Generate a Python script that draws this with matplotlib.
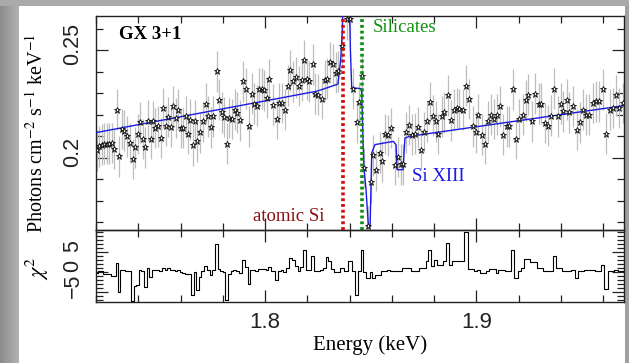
import numpy as np
import matplotlib
matplotlib.use("Agg")
import matplotlib.pyplot as plt
from matplotlib.patches import Rectangle
from matplotlib.ticker import MultipleLocator
from matplotlib.transforms import ScaledTranslation

# ---------------- data ----------------
energy = [
    1.7203, 1.7216, 1.7227, 1.7239, 1.7250, 1.7263, 1.7277, 1.7287, 1.7298, 1.7310,
    1.7321, 1.7334, 1.7345, 1.7361, 1.7374, 1.7385, 1.7397, 1.7408, 1.7421, 1.7433,
    1.7445, 1.7459, 1.7471, 1.7481, 1.7492, 1.7506, 1.7519, 1.7531, 1.7542, 1.7555,
    1.7566, 1.7579, 1.7590, 1.7602, 1.7613, 1.7626, 1.7637, 1.7645, 1.7657, 1.7669,
    1.7680, 1.7692, 1.7705, 1.7719, 1.7732, 1.7743, 1.7755, 1.7771, 1.7782, 1.7795,
    1.7806, 1.7818, 1.7831, 1.7842, 1.7858, 1.7869, 1.7881, 1.7897, 1.7910, 1.7924,
    1.7937, 1.7949, 1.7960, 1.7973, 1.7986, 1.7997, 1.8008, 1.8020, 1.8036, 1.8055,
    1.8068, 1.8079, 1.8094, 1.8107, 1.8118, 1.8134, 1.8147, 1.8162, 1.8173, 1.8186,
    1.8197, 1.8210, 1.8225, 1.8236, 1.8252,
    1.8268, 1.8284, 1.8292, 1.8307, 1.8320, 1.8336, 1.8347, 1.8363, 1.8386, 1.8402,
    1.8418, 1.8434, 1.8446, 1.8458, 1.8469, 1.8489, 1.8501, 1.8513, 1.8526, 1.8542,
    1.8555, 1.8568, 1.8582, 1.8596, 1.8615, 1.8628, 1.8641, 1.8653, 1.8668, 1.8683,
    1.8697, 1.8710, 1.8723, 1.8738, 1.8754, 1.8765, 1.8781, 1.8794, 1.8809, 1.8820,
    1.8836, 1.8849, 1.8865, 1.8879, 1.8894, 1.8907, 1.8920, 1.8935, 1.8951, 1.8967,
    1.8983, 1.8997, 1.9010, 1.9025, 1.9041, 1.9054, 1.9070, 1.9085, 1.9097, 1.9112,
    1.9128, 1.9144, 1.9156, 1.9172, 1.9188, 1.9204, 1.9219, 1.9235, 1.9246, 1.9262,
    1.9278, 1.9294, 1.9306, 1.9325, 1.9338, 1.9354, 1.9369, 1.9384, 1.9399, 1.9412,
    1.9428, 1.9440, 1.9459, 1.9475, 1.9488, 1.9503, 1.9519, 1.9535, 1.9551, 1.9567,
    1.9582, 1.9598, 1.9614, 1.9630, 1.9645, 1.9661, 1.9677, 1.9693,
]

flux = [
    0.2034, 0.2053, 0.2061, 0.2065, 0.2065, 0.2065, 0.2069, 0.2041, 0.2224, 0.2006,
    0.2134, 0.2126, 0.2100, 0.2069, 0.1994, 0.2048, 0.2111, 0.2165, 0.2087, 0.2048,
    0.2173, 0.2087, 0.2170, 0.2139, 0.2146, 0.2092, 0.2232, 0.2150, 0.2190, 0.2143,
    0.2240, 0.2185, 0.2224, 0.2139, 0.2139, 0.2193, 0.2111, 0.2178, 0.2058, 0.2173,
    0.2076, 0.2118, 0.2170, 0.2252, 0.2193, 0.2142, 0.2193, 0.2403, 0.2271, 0.2212,
    0.2190, 0.2065, 0.2185, 0.2181, 0.2224, 0.2209, 0.2175, 0.2357, 0.2321, 0.2146,
    0.2298, 0.2251, 0.2243, 0.2321, 0.2321, 0.2315, 0.2279, 0.2365, 0.2248, 0.2181,
    0.2255, 0.2255, 0.2224, 0.2336, 0.2408, 0.2357, 0.2375, 0.2334, 0.2360, 0.2455,
    0.2365, 0.2356, 0.2435, 0.2299, 0.2294,
    0.2276, 0.2360, 0.2368, 0.2445, 0.2435, 0.2396, 0.2403, 0.2520, 0.2645, 0.2645,
    0.2321, 0.2165, 0.2259, 0.2380, 0.1952, 0.1682, 0.1885, 0.2011, 0.1942, 0.2024,
    0.1983, 0.2110, 0.2105, 0.2139, 0.1967, 0.2003, 0.1970, 0.1970, 0.2118, 0.2152,
    0.2108, 0.2112, 0.2142, 0.2037, 0.2120, 0.2170, 0.2259, 0.2196, 0.2170, 0.2111,
    0.2193, 0.2212, 0.2290, 0.2174, 0.2224, 0.2232, 0.2227, 0.2224, 0.2336, 0.2274,
    0.2146, 0.2118, 0.2201, 0.2107, 0.2065, 0.2170, 0.2201, 0.2181, 0.2201, 0.2240,
    0.2107, 0.2146, 0.2146, 0.2318, 0.2087, 0.2181, 0.2201, 0.2268, 0.2294, 0.2170,
    0.2298, 0.2251, 0.2251, 0.2162, 0.2150, 0.2196, 0.2321, 0.2193, 0.2251, 0.2217,
    0.2271, 0.2212, 0.2240, 0.2131, 0.2165, 0.2224, 0.2201, 0.2201, 0.2255, 0.2263,
    0.2263, 0.2318, 0.2112, 0.2224, 0.2232, 0.2290, 0.2232, 0.2255,
]

flux_err = 0.0095

resid = [
    -0.3, 0.2, 0.2, -0.6, -0.6, -0.6, -1.0, -1.1, 2.2, -5.0,
    0.4, 0.4, 0.3, 0.3, -7.2, -3.5, -3.3, 0.4, 0.3, -3.7,
    1.0, -1.2, 0.6, 0.4, 0.5, 0.3, 1.0, 0.6, 1.0, 0.4,
    0.5, 0.3, 0.5, 0.0, -0.2, -0.4, -0.5, -0.5, -5.8, 0.0,
    -4.4, -1.2, 0.3, 1.5, 0.6, -0.8, 0.4, 7.1, 0.7, 0.3,
    0.0, -7.1, -0.5, 0.3, 0.4, 0.3, -0.2, 2.9, 1.2, -2.9,
    0.6, 0.4, 0.3, 0.8, 0.8, 0.7, 0.6, 1.2, 0.3, -2.1,
    0.3, 0.4, 0.0, 1.0, 3.5, 2.9, 1.4, 0.2, 1.3, 5.6,
    0.4, 0.4, 3.9, 0.3, 0.3,
    0.5, 1.0, 3.7, 2.7, 0.7, 0.0, 0.0, 1.0, 0.2, 2.7,
    0.2, -5.7, 0.2, 5.6, 0.0, -1.5, 0.0, -1.5, -0.7, -0.7,
    0.2, 0.2, 0.6, 0.3, 0.2, 0.2, 0.2, 1.0, 1.0, 1.0,
    0.3, 0.3, 0.3, 1.0, 1.0, 2.7, 5.6, 1.4, 3.1, 1.7,
    1.7, 2.7, 7.3, 1.8, 2.7, 2.7, 2.7, 2.7, 9.9, 0.7,
    0.7, 0.2, 0.6, -0.3, -0.3, 0.3, 0.7, 0.7, -0.3, 0.4,
    0.4, 0.3, 0.3, 5.6, -1.5, 0.2, 1.0, 3.3, 3.3, 2.5,
    2.5, 1.0, 1.0, 0.2, 0.2, 0.2, 3.9, 1.0, 1.0, 0.3,
    0.3, 0.3, 0.6, -1.5, 0.2, 0.2, 0.4, 0.4, 0.4, 0.3,
    0.3, 1.8, -4.2, 0.3, 0.3, 0.6, 0.2, 0.2,
]

model_energy = [1.7200, 1.8245, 1.8339, 1.8345, 1.8350, 1.8358, 1.8366, 1.8370,
                1.8396, 1.8404, 1.8410, 1.8457, 1.8463, 1.8468, 1.8478, 1.8489,
                1.8497, 1.8505, 1.8520, 1.8607, 1.8620, 1.8625, 1.8653, 1.8662,
                1.8686, 1.9700]
model_flux = [0.2117, 0.2310, 0.2341, 0.2345, 0.2388, 0.2458, 0.2600, 0.2850,
              0.2850, 0.2500, 0.2326, 0.2322, 0.2100, 0.1952, 0.1850, 0.1678,
              0.1678, 0.2023, 0.2061, 0.2076, 0.2060, 0.1944, 0.1944, 0.2092,
              0.2100, 0.2243]

atomic_si_energy = 1.8371
silicates_energy = 1.8461

# ---------------- styling ----------------
plt.rcParams['mathtext.fontset'] = 'stix'
serif = 'Liberation Serif'
sans = 'Liberation Sans'

W, H = 629, 363
fig = plt.figure(figsize=(W / 100, H / 100), dpi=100)
fig.patch.set_facecolor('#a9a9a9')

bg = fig.add_axes([0, 0, 1, 1], zorder=-10)
bg.set_axis_off()
grad = np.linspace(0.55, 0.70, 64)[None, :]
bg.imshow(grad, cmap='gray', vmin=0, vmax=1, aspect='auto',
          extent=[0, 19 / W, 0, 1], transform=fig.transFigure)
bg.add_patch(Rectangle((0, (H - 6) / H), 1, 6 / H, transform=fig.transFigure,
                       facecolor='#aaaaaa', edgecolor='none'))
bg.add_patch(Rectangle((19 / W, 0), (625 - 19) / W, (H - 6) / H,
                       transform=fig.transFigure, facecolor='white',
                       edgecolor='none'))
bg.add_patch(Rectangle((625 / W, 0), 4 / W, (H - 6) / H,
                       transform=fig.transFigure, facecolor='#a0a0a0',
                       edgecolor='none'))

x0 = 96 / W
aw = (624.3 - 96) / W
ax1 = fig.add_axes([x0, (H - 230) / H, aw, (230 - 15.7) / H])
ax2 = fig.add_axes([x0, (H - 302) / H, aw, (302 - 230) / H], sharex=ax1)

for ax in (ax1, ax2):
    ax.set_facecolor('none')
    for s in ax.spines.values():
        s.set_linewidth(1.0)
        s.set_color('#222222')
    ax.tick_params(which='both', direction='in', top=True, right=True,
                   colors='#222222', width=0.9)
    ax.tick_params(which='major', length=8.5)
    ax.tick_params(which='minor', length=5)

# top panel
ax1.errorbar(energy, flux, yerr=flux_err, fmt='none', ecolor='#bdbdbd',
             elinewidth=0.9, zorder=2)
ax1.plot(energy, flux, linestyle='none', marker='*', markersize=4.6,
         markerfacecolor='white', markeredgecolor='#111111',
         markeredgewidth=0.65, zorder=4)
ax1.plot(model_energy, model_flux, color='#1a1ae6', lw=1.0, zorder=3)
ax1.axvline(atomic_si_energy, color='#d01010', lw=2.6,
            linestyle=(0, (0.8, 0.8)), zorder=5)
ax1.axvline(silicates_energy, color='#109010', lw=2.6,
            linestyle=(0, (0.8, 0.8)), zorder=5)

ax1.set_xlim(1.72, 1.97)
ax1.set_ylim(0.1663, 0.2662)
ax1.xaxis.set_major_locator(MultipleLocator(0.1))
ax1.xaxis.set_minor_locator(MultipleLocator(0.02))
ax1.set_yticks([0.2, 0.25], labels=['0.2', '0.25'])
ax1.yaxis.set_minor_locator(MultipleLocator(0.01))
ax1.tick_params(axis='x', which='both', labelbottom=False)
ax1.tick_params(axis='y', which='major', pad=9, labelsize=15.5)
shift_up = ScaledTranslation(0, 6 / 100, fig.dpi_scale_trans)
for lab in ax1.get_yticklabels():
    lab.set_rotation(90)
    lab.set_va('center')
    lab.set_family(sans)
    lab.set_transform(lab.get_transform() + shift_up)

ax1.text(1.7309, 0.2575, 'GX 3+1', fontfamily=serif, fontweight='bold',
         fontsize=13.5, ha='left', va='center', color='black')
ax1.text(1.8511, 0.2607, 'Silicates', fontfamily=serif, fontsize=13.5,
         ha='left', va='center', color='#109010')
ax1.text(1.8696, 0.1911, 'Si XIII', fontfamily=serif, fontsize=13.5,
         ha='left', va='center', color='#1a1ae6')
ax1.text(1.7943, 0.1724, 'atomic Si', fontfamily=serif, fontsize=13.5,
         ha='left', va='center', color='#8b1010')

# bottom panel
ax2.step(energy, resid, where='mid', color='black', lw=0.8)
ax2.set_ylim(-7.5, 10.5)
ax2.set_yticks([-5, 0, 5], labels=['\u22125', '0', '5'])
ax2.yaxis.set_minor_locator(MultipleLocator(1))
ax2.xaxis.set_major_locator(MultipleLocator(0.1))
ax2.xaxis.set_minor_locator(MultipleLocator(0.02))
ax2.set_xticks([1.8, 1.9], labels=['1.8', '1.9'])
ax2.tick_params(axis='x', which='major', pad=7, labelsize=16)
ax2.tick_params(axis='y', which='major', pad=9, labelsize=15.5)
for lab in ax2.get_xticklabels():
    lab.set_family(sans)
for lab in ax2.get_yticklabels():
    lab.set_rotation(90)
    lab.set_va('center')
    lab.set_family(sans)
    lab.set_transform(lab.get_transform() + shift_up)

# axis titles
fig.text(37 / W, 1 - 133 / H, 'Photons cm$^{-2}$ s$^{-1}$ keV$^{-1}$',
         rotation=90, ha='center', va='center', fontfamily=serif, fontsize=14.5)
fig.text(37 / W, 1 - 268 / H, r'$\chi^2$', rotation=90, ha='center',
         va='center', fontsize=16)
fig.text(370 / W, 1 - 345 / H, 'Energy (keV)', ha='center', va='center',
         fontfamily=serif, fontsize=15)

fig.savefig('out.png', dpi=100)
